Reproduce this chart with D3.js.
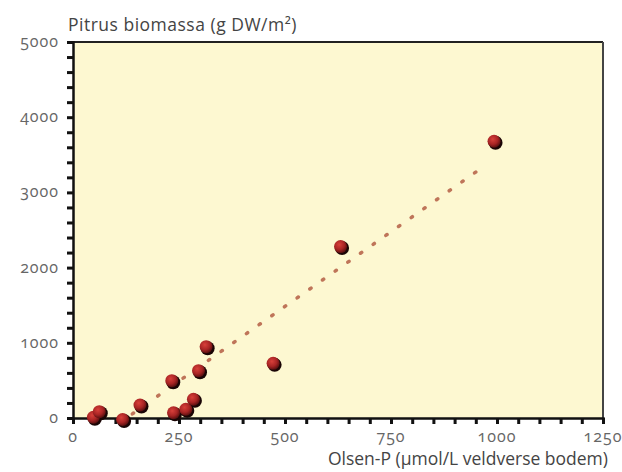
<!DOCTYPE html>
<html>
<head>
<meta charset="utf-8">
<script src="https://cdn.jsdelivr.net/npm/d3@7"></script>
<style>
  body { margin: 0; background: #fff; }
  svg text { font-family: "Open Sans", "Noto Sans", sans-serif; font-variant-numeric: oldstyle-nums; }
</style>
</head>
<body>
<div id="chart"></div>
<script>
// Olsen-P (x) against Pitrus biomassa (y)
const olsenP = [48, 62, 117, 158, 233, 237, 266, 284, 296, 314, 472, 631, 993];
const biomassa = [10, 84, -20, 173, 496, 70, 116, 249, 629, 948, 727, 2280, 3680];

// dotted trend line ends
const trendX = [140, 970];
const trendSlope = 3.97;
const trendIntercept = -501;

const xTicks = [0, 250, 500, 750, 1000, 1250];
const yTicks = [0, 1000, 2000, 3000, 4000, 5000];

const width = 622, height = 472;
const margin = {top: 42, right: 19, bottom: 54, left: 73};

const svg = d3.select("#chart").append("svg")
    .attr("width", width)
    .attr("height", height);

const defs = svg.append("defs");
const grad = defs.append("radialGradient")
    .attr("id", "dot")
    .attr("cx", "40%").attr("cy", "35%").attr("r", "65%");
grad.append("stop").attr("offset", "0%").attr("stop-color", "#d8403a");
grad.append("stop").attr("offset", "60%").attr("stop-color", "#a82424");
grad.append("stop").attr("offset", "100%").attr("stop-color", "#5a1010");

const x = d3.scaleLinear().domain([0, 1250]).range([margin.left, width - margin.right]);
const y = d3.scaleLinear().domain([0, 5000]).range([height - margin.bottom, margin.top]);

// plot background
svg.append("rect")
    .attr("x", x(0)).attr("y", y(5000))
    .attr("width", x(1250) - x(0))
    .attr("height", y(0) - y(5000))
    .attr("fill", "#fdf8d1");

// frame top + right
svg.append("line")
    .attr("x1", x(0)).attr("x2", x(1250))
    .attr("y1", y(5000)).attr("y2", y(5000))
    .attr("stroke", "#222").attr("stroke-width", 2);
svg.append("line")
    .attr("x1", x(1250)).attr("x2", x(1250))
    .attr("y1", y(5000)).attr("y2", y(0))
    .attr("stroke", "#444").attr("stroke-width", 2);

// minor ticks
const xAxis = svg.append("g")
    .attr("transform", `translate(0,${y(0)})`)
    .call(d3.axisBottom(x).tickValues(d3.range(0, 1251, 50)).tickSize(6).tickFormat(""));
const yAxis = svg.append("g")
    .attr("transform", `translate(${x(0)},0)`)
    .call(d3.axisLeft(y).tickValues(d3.range(0, 5001, 200)).tickSize(6).tickFormat(""));

[xAxis, yAxis].forEach(a => {
    a.select(".domain").attr("stroke", "#111").attr("stroke-width", 2.5);
    a.selectAll(".tick line").attr("stroke", "#111").attr("stroke-width", 3);
});

// tick labels
svg.append("g").selectAll("text")
    .data(xTicks)
    .join("text")
    .attr("x", d => x(d))
    .attr("y", y(0) + 24)
    .attr("text-anchor", "middle")
    .attr("font-size", 16)
    .attr("letter-spacing", 1)
    .attr("fill", "#666")
    .text(d => d);

svg.append("g").selectAll("text")
    .data(yTicks)
    .join("text")
    .attr("x", x(0) - 14)
    .attr("y", d => y(d) + 5)
    .attr("text-anchor", "end")
    .attr("font-size", 16)
    .attr("letter-spacing", 1)
    .attr("fill", "#666")
    .text(d => d);

// axis titles
svg.append("text")
    .attr("x", 68).attr("y", 31)
    .attr("font-size", 17.5)
    .attr("letter-spacing", 0.5)
    .attr("fill", "#444")
    .text("Pitrus biomassa (g DW/m²)");

svg.append("text")
    .attr("x", 608).attr("y", 465)
    .attr("text-anchor", "end")
    .attr("font-size", 17.5)
    .attr("fill", "#444")
    .text("Olsen-P (µmol/L veldverse bodem)");

// trend line
svg.append("line")
    .attr("x1", x(trendX[0])).attr("y1", y(trendSlope * trendX[0] + trendIntercept))
    .attr("x2", x(trendX[1])).attr("y2", y(trendSlope * trendX[1] + trendIntercept))
    .attr("stroke", "#b0553c")
    .attr("stroke-width", 3.5)
    .attr("stroke-linecap", "round")
    .attr("stroke-dasharray", "1.5 14")
    .attr("opacity", 0.8);

// points
const pts = olsenP.map((v, i) => ({x: v, y: biomassa[i]}));

svg.append("g").selectAll("circle")
    .data(pts)
    .join("circle")
    .attr("cx", d => x(d.x) + 1.5)
    .attr("cy", d => y(d.y) + 1.5)
    .attr("r", 7)
    .attr("fill", "#1a0505");

svg.append("g").selectAll("circle")
    .data(pts)
    .join("circle")
    .attr("cx", d => x(d.x))
    .attr("cy", d => y(d.y))
    .attr("r", 6.5)
    .attr("fill", "url(#dot)");
</script>
</body>
</html>
